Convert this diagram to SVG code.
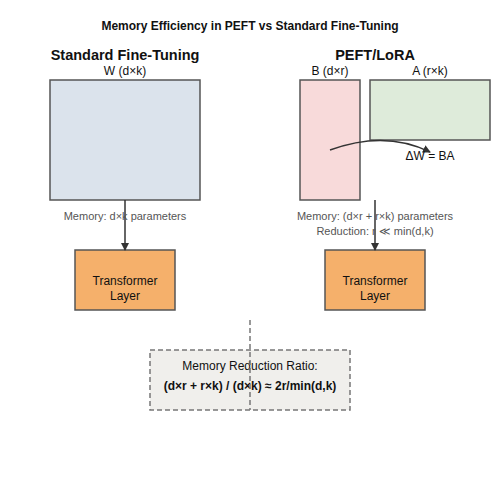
<svg xmlns="http://www.w3.org/2000/svg" width="500" height="500" viewBox="0 0 500 500">
<defs>
<marker id="arr" markerWidth="8" markerHeight="8" refX="7" refY="4" orient="auto" markerUnits="userSpaceOnUse">
<path d="M0,0 L8,4 L0,8 Z" fill="#333"/>
</marker>
<style>
text{font-family:"Liberation Sans",Arial,sans-serif;text-anchor:middle;fill:#111}
.t{font-size:12px;font-weight:bold}
.h{font-size:14.5px;font-weight:bold}
.l{font-size:12px}
.s{font-size:11px;fill:#555}
.box{stroke:#555;stroke-width:1.5}
.line{stroke:#333;stroke-width:1.5;fill:none}
</style>
</defs>
<rect width="500" height="500" fill="#fff"/>
<text class="t" x="250" y="30">Memory Efficiency in PEFT vs Standard Fine-Tuning</text>
<text class="h" x="125" y="60">Standard Fine-Tuning</text>
<text class="h" x="375" y="60">PEFT/LoRA</text>
<g id="W"><rect class="box" x="50" y="80" width="150" height="120" fill="#dbe3ec"/><text class="l" x="125" y="75">W (d×k)</text></g>
<g id="B"><rect class="box" x="300" y="80" width="60" height="120" fill="#f8dada"/><text class="l" x="330" y="75">B (d×r)</text></g>
<g id="A"><rect class="box" x="370" y="80" width="120" height="60" fill="#deebda"/><text class="l" x="430" y="75">A (r×k)</text></g>
<g id="T1"><rect class="box" x="75" y="250" width="100" height="60" fill="#f5b06b"/><text class="l" x="125" y="285">Transformer</text><text class="l" x="125" y="300">Layer</text></g>
<g id="T2"><rect class="box" x="325" y="250" width="100" height="60" fill="#f5b06b"/><text class="l" x="375" y="285">Transformer</text><text class="l" x="375" y="300">Layer</text></g>
<g id="ratio"><rect x="150" y="350" width="200" height="60" fill="#f0efec" stroke="#777" stroke-width="1.5" stroke-dasharray="5,3"/><text class="l" x="250" y="370">Memory Reduction Ratio:</text><text class="t" x="250" y="390">(d×r + r×k) / (d×k) ≈ 2r/min(d,k)</text></g>
<g id="connectors">
<path class="line" d="M330,150 Q385,130 430,152" marker-end="url(#arr)"/>
<line class="line" x1="125" y1="200" x2="125" y2="250" marker-end="url(#arr)"/>
<line class="line" x1="375" y1="200" x2="375" y2="250" marker-end="url(#arr)"/>
<line x1="250" y1="320" x2="250" y2="410" stroke="#777" stroke-width="1.5" stroke-dasharray="5,3"/>
</g>
<text class="l" x="430" y="160">ΔW = BA</text>
<text class="s" x="125" y="220">Memory: d×k parameters</text>
<text class="s" x="375" y="220">Memory: (d×r + r×k) parameters</text>
<text class="s" x="375" y="235">Reduction: r ≪ min(d,k)</text>
</svg>
